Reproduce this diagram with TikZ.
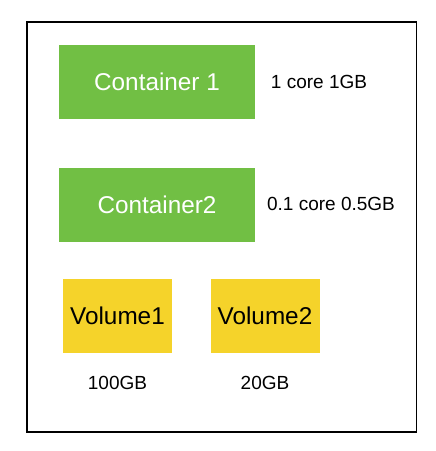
\documentclass[tikz,border=0pt]{standalone}
\usepackage{fontspec}
\setmainfont{Liberation Sans}
\usepackage{tikz}
\usetikzlibrary{positioning}
\definecolor{contgreen}{RGB}{113,191,68}
\definecolor{volyellow}{RGB}{245,211,42}
\tikzset{container/.style={fill=contgreen,text=white,minimum width=196pt,minimum height=74pt,inner sep=0pt,font=\fontsize{24.3}{28}\selectfont},
volume/.style={fill=volyellow,text=black,minimum width=109pt,minimum height=74pt,inner sep=0pt,font=\fontsize{24.3}{28}\selectfont},
size/.style={font=\fontsize{19}{22}\selectfont,inner sep=0pt}}
\begin{document}
\begin{tikzpicture}[x=1pt,y=-1pt]
\useasboundingbox (0,0) rectangle (436,451);
%the outer frame
\draw[line width=1.1pt] (27,22) rectangle (416.5,432);
%containers
\node[container] (c1) at (157,82) {Container 1};
\node[container] (c2) at (157,204.5) {Container2};
\node[size] (c1size) at (319,82) {1 core 1GB};
\node[size] (c2size) at (331,204) {0.1 core 0.5GB};
%volumes
\node[volume] (v1) at (117.5,316) {Volume1};
\node[volume] (v2) at (265,316) {Volume2};
\node[size] (v1size) at (117.5,383) {100GB};
\node[size] (v2size) at (265,383) {20GB};
\end{tikzpicture}
\end{document}
